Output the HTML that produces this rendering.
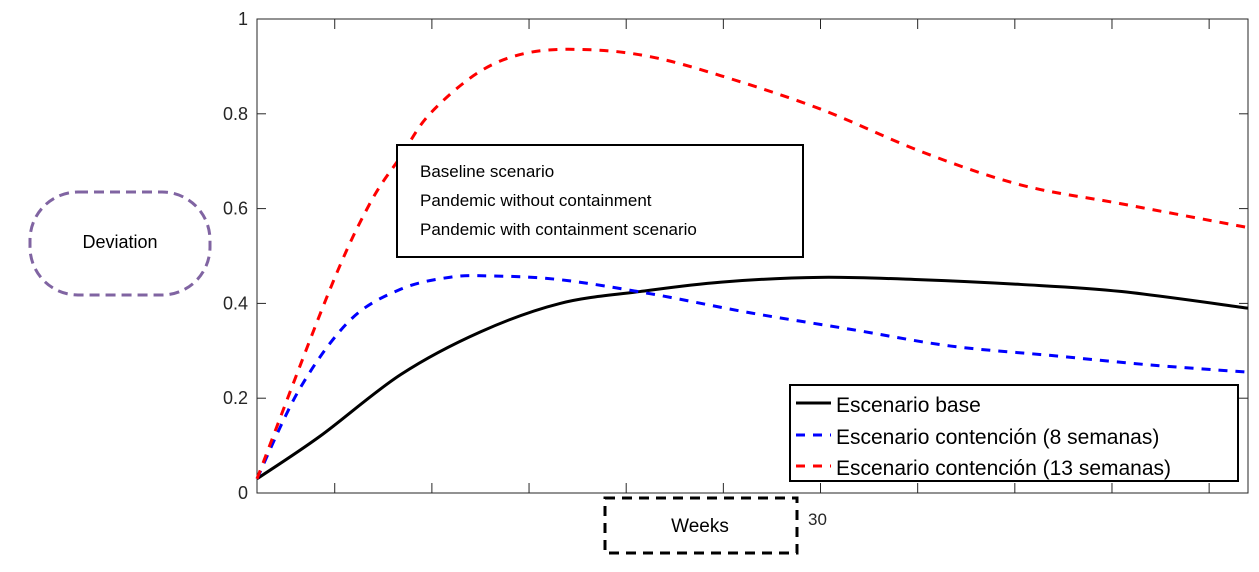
<!DOCTYPE html>
<html><head><meta charset="utf-8"><style>
body{margin:0;background:#fff}
svg{display:block}
text{font-family:"Liberation Sans",sans-serif}
</style></head><body>
<svg id="chart" width="1259" height="572" viewBox="0 0 1259 572">
<rect x="257" y="19" width="991" height="474" fill="#fff" stroke="#262626" stroke-width="1"/>
<g id="ticks"></g>
<g id="series"></g>
<text x="808" y="525" font-size="17" fill="#262626">30</text>
<rect x="397" y="145" width="406" height="112" fill="#fff" stroke="#000" stroke-width="2"/>
<g font-family="'Liberation Sans',sans-serif" font-size="17" fill="#000">
<text x="420" y="177">Baseline scenario</text>
<text x="420" y="206">Pandemic without containment</text>
<text x="420" y="235">Pandemic with containment scenario</text>
</g>
<rect x="30" y="192" width="180" height="103" rx="48" fill="none" stroke="#8064a2" stroke-width="3" stroke-dasharray="10,6"/>
<text x="120" y="248" text-anchor="middle" font-family="'Liberation Serif',serif" font-size="18" fill="#000">Deviation</text>
<rect x="605" y="498" width="192" height="55" fill="#fff" stroke="#000" stroke-width="3" stroke-dasharray="10,7"/>
<text x="700" y="532" text-anchor="middle" font-family="'Liberation Serif',serif" font-size="19" fill="#000">Weeks</text>
<g>
<rect x="790" y="385" width="448" height="96" fill="#fff" stroke="#000" stroke-width="2"/>
<line x1="796" y1="403" x2="831" y2="403" stroke="#000" stroke-width="3"/>
<line x1="796" y1="435" x2="831" y2="435" stroke="#00f" stroke-width="3" stroke-dasharray="9,8"/>
<line x1="796" y1="466" x2="831" y2="466" stroke="#f00" stroke-width="3" stroke-dasharray="9,8"/>
<text x="836" y="412" font-size="21" fill="#000">Escenario base</text>
<text x="836" y="444" font-size="21" fill="#000">Escenario contención (8 semanas)</text>
<text x="836" y="475" font-size="21" fill="#000">Escenario contención (13 semanas)</text>
</g>
</svg>
<script>
const yTicks=[0,0.2,0.4,0.6,0.8,1];
const yTickLabels=["0","0.2","0.4","0.6","0.8","1"];
const xTicks=[5,10,15,20,25,30,35,40,45,50];
const baseWeeks=[1,4.25,8.4,12.5,16.6,20.7,24.9,30,35.2,40.3,45.5,52];
const baseVals=[0.03,0.12,0.25,0.34,0.40,0.425,0.445,0.455,0.45,0.44,0.425,0.39];
const c8Weeks=[1,3.2,5.8,8.4,10.9,13,16.6,21.3,26.4,31.6,36.7,41.9,47,52];
const c8Vals=[0.03,0.22,0.365,0.43,0.455,0.458,0.45,0.42,0.38,0.345,0.31,0.29,0.27,0.255];
const c13Weeks=[1,4.76,6.8,8.4,9.9,12.5,15.1,18.2,21.3,24.9,30,35.2,40.3,45.5,52];
const c13Vals=[0.03,0.43,0.61,0.71,0.80,0.89,0.93,0.935,0.92,0.88,0.81,0.72,0.65,0.61,0.56];
const X0=257,X1=1248,Y0=493,Y1=19,XMIN=1,XMAX=52;
const sx=w=>X0+(w-XMIN)/(XMAX-XMIN)*(X1-X0);
const sy=v=>Y0-v*(Y0-Y1);
const NS="http://www.w3.org/2000/svg";
const tg=document.getElementById('ticks');
yTicks.forEach((v,i)=>{
 const y=sy(v);
 const l=document.createElementNS(NS,'line');
 l.setAttribute('x1',X0);l.setAttribute('x2',X0+9);l.setAttribute('y1',y);l.setAttribute('y2',y);
 l.setAttribute('stroke','#262626');
 
 
 tg.appendChild(l);
 const r=document.createElementNS(NS,'line');
 r.setAttribute('x1',X1);r.setAttribute('x2',X1-9);r.setAttribute('y1',y);r.setAttribute('y2',y);
 r.setAttribute('stroke','#262626');
 
 
 tg.appendChild(r);
 const t=document.createElementNS(NS,'text');
 t.setAttribute('x',X0-9);t.setAttribute('y',y+6);t.setAttribute('text-anchor','end');
 t.setAttribute('font-size','18');t.setAttribute('fill','#262626');
 t.textContent=yTickLabels[i];
 
 
 tg.appendChild(t);
});
xTicks.forEach(w=>{
 const x=sx(w);
 [[Y0,Y0-10],[Y1,Y1+10]].forEach(([a,b])=>{
  const l=document.createElementNS(NS,'line');
  l.setAttribute('x1',x);l.setAttribute('x2',x);l.setAttribute('y1',a);l.setAttribute('y2',b);
  l.setAttribute('stroke','#262626');
  
  
  tg.appendChild(l);
 });
});
function pathD(ws,vs){
 const p=ws.map((w,i)=>[sx(w),sy(vs[i])]);
 let d=`M${p[0][0]},${p[0][1]}`;
 for(let i=0;i<p.length-1;i++){
  const p0=p[i-1]||p[i],p1=p[i],p2=p[i+1],p3=p[i+2]||p2;
  const c1=[p1[0]+(p2[0]-p0[0])/6,p1[1]+(p2[1]-p0[1])/6];
  const c2=[p2[0]-(p3[0]-p1[0])/6,p2[1]-(p3[1]-p1[1])/6];
  d+=` C${c1[0]},${c1[1]} ${c2[0]},${c2[1]} ${p2[0]},${p2[1]}`;
 }
 return d;
}
const sg=document.getElementById('series');
[[baseWeeks,baseVals,'#000',null,'line-base'],[c8Weeks,c8Vals,'#00f','9,8','line-contencion-8'],[c13Weeks,c13Vals,'#f00','9,8','line-contencion-13']].forEach(([w,v,c,da,n])=>{
 const p=document.createElementNS(NS,'path');
 p.setAttribute('d',pathD(w,v));p.setAttribute('fill','none');p.setAttribute('stroke',c);p.setAttribute('stroke-width','3');
 if(da)p.setAttribute('stroke-dasharray',da);
 
 
 sg.appendChild(p);
});
</script>
</body></html>
